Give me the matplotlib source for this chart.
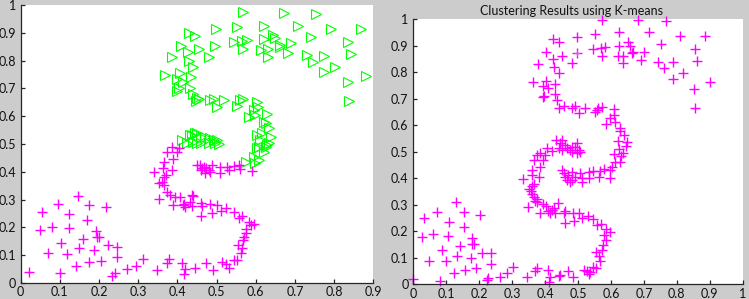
import numpy as np
import matplotlib
matplotlib.use("Agg")
import matplotlib.pyplot as plt
from matplotlib.ticker import FormatStrFormatter

plt.rcParams['font.family'] = ['Lato', 'DejaVu Sans']

# --- left panel: two groups (green triangles, magenta pluses) ---
left_green = [
    (0.568, 0.974), (0.673, 0.970), (0.753, 0.968),
    (0.429, 0.900), (0.446, 0.888), (0.499, 0.913), (0.551, 0.920), (0.620, 0.924),
    (0.707, 0.924), (0.793, 0.913), (0.868, 0.913),
    (0.408, 0.854), (0.454, 0.842), (0.497, 0.853), (0.544, 0.868), (0.565, 0.871),
    (0.578, 0.874), (0.620, 0.877), (0.644, 0.892), (0.650, 0.880), (0.661, 0.856),
    (0.663, 0.850), (0.689, 0.862), (0.740, 0.884), (0.836, 0.868),
    (0.427, 0.830), (0.386, 0.812), (0.480, 0.814), (0.568, 0.842), (0.614, 0.838),
    (0.631, 0.841), (0.632, 0.814), (0.682, 0.826), (0.730, 0.820), (0.747, 0.796),
    (0.774, 0.818), (0.844, 0.824),
    (0.429, 0.799), (0.441, 0.778), (0.774, 0.760), (0.801, 0.776), (0.835, 0.722),
    (0.881, 0.745), (0.838, 0.656),
    (0.369, 0.747), (0.407, 0.754), (0.399, 0.733), (0.414, 0.724), (0.435, 0.740),
    (0.403, 0.700), (0.399, 0.692), (0.431, 0.703), (0.440, 0.679), (0.450, 0.667),
    (0.448, 0.655),
    (0.454, 0.662), (0.484, 0.658), (0.493, 0.661), (0.518, 0.658), (0.501, 0.634),
    (0.552, 0.638), (0.561, 0.658), (0.568, 0.661),
    (0.604, 0.652), (0.595, 0.622), (0.605, 0.632), (0.582, 0.598), (0.599, 0.604),
    (0.629, 0.607), (0.620, 0.580), (0.625, 0.574),
    (0.633, 0.556), (0.616, 0.538), (0.638, 0.526), (0.612, 0.514), (0.633, 0.503),
    (0.608, 0.490), (0.625, 0.490),
    (0.604, 0.532), (0.629, 0.496), (0.604, 0.484), (0.620, 0.472), (0.595, 0.454),
    (0.608, 0.442), (0.574, 0.436), (0.599, 0.431),
    (0.412, 0.514), (0.425, 0.503), (0.437, 0.532), (0.450, 0.538), (0.450, 0.503),
    (0.459, 0.526), (0.471, 0.526), (0.484, 0.520), (0.493, 0.514), (0.501, 0.514),
    (0.441, 0.508), (0.459, 0.505), (0.480, 0.503), (0.497, 0.503), (0.505, 0.500),
    (0.433, 0.532), (0.446, 0.538),
]

left_magenta = [
    # lower-left blob
    (0.022, 0.041), (0.055, 0.257), (0.049, 0.191), (0.079, 0.203), (0.071, 0.107),
    (0.095, 0.284), (0.103, 0.145), (0.101, 0.035), (0.124, 0.247), (0.124, 0.197),
    (0.118, 0.103), (0.147, 0.314), (0.141, 0.061), (0.150, 0.125), (0.159, 0.157),
    (0.170, 0.227), (0.175, 0.281), (0.175, 0.074), (0.188, 0.119), (0.192, 0.186),
    (0.194, 0.164), (0.200, 0.164), (0.205, 0.080), (0.218, 0.272), (0.223, 0.137),
    (0.247, 0.131), (0.247, 0.095), (0.233, 0.025), (0.241, 0.035),
    # bottom arc
    (0.271, 0.049), (0.295, 0.061), (0.312, 0.085), (0.349, 0.047), (0.373, 0.071),
    (0.378, 0.085), (0.412, 0.071), (0.416, 0.032), (0.420, 0.049), (0.444, 0.053),
    (0.473, 0.073), (0.490, 0.047), (0.514, 0.077), (0.525, 0.068), (0.531, 0.053),
    (0.544, 0.083), (0.551, 0.083),
    (0.554, 0.137), (0.565, 0.125), (0.563, 0.107), (0.568, 0.155), (0.571, 0.164),
    (0.574, 0.179), (0.576, 0.193), (0.582, 0.221), (0.588, 0.209), (0.595, 0.212),
    (0.557, 0.233), (0.565, 0.241),
    # middle band
    (0.544, 0.256), (0.525, 0.269), (0.511, 0.259), (0.488, 0.251), (0.482, 0.284),
    (0.501, 0.281), (0.461, 0.241), (0.459, 0.287), (0.463, 0.277), (0.418, 0.284),
    (0.420, 0.274), (0.431, 0.292), (0.436, 0.277), (0.440, 0.313), (0.407, 0.310),
    (0.395, 0.310), (0.414, 0.281), (0.390, 0.281), (0.382, 0.317), (0.373, 0.328),
    (0.352, 0.301), (0.437, 0.317),
    # left column of the S
    (0.386, 0.490), (0.403, 0.484), (0.373, 0.472), (0.398, 0.472), (0.390, 0.447),
    (0.365, 0.434), (0.362, 0.413), (0.386, 0.406), (0.340, 0.401), (0.366, 0.380),
    (0.371, 0.388), (0.354, 0.359), (0.361, 0.363), (0.365, 0.351),
    # inner arm
    (0.457, 0.424), (0.463, 0.412), (0.467, 0.418), (0.474, 0.412), (0.480, 0.406),
    (0.488, 0.424), (0.484, 0.400), (0.459, 0.406), (0.471, 0.394), (0.510, 0.418),
    (0.510, 0.394), (0.527, 0.418), (0.531, 0.406), (0.544, 0.421), (0.557, 0.424),
    (0.561, 0.409), (0.591, 0.403), (0.450, 0.424),
]

# --- right panel: k-means result ---
right_magenta = [
    (0.573, 0.998), (0.682, 0.997), (0.768, 0.994),
    (0.423, 0.925), (0.443, 0.913), (0.497, 0.934), (0.552, 0.943), (0.625, 0.951),
    (0.717, 0.951), (0.809, 0.937), (0.885, 0.937),
    (0.402, 0.875), (0.451, 0.863), (0.423, 0.850), (0.497, 0.872), (0.481, 0.834),
    (0.547, 0.887), (0.570, 0.893), (0.583, 0.897), (0.573, 0.862), (0.623, 0.901),
    (0.621, 0.862), (0.638, 0.862), (0.638, 0.834), (0.653, 0.913), (0.659, 0.901),
    (0.667, 0.878), (0.664, 0.872), (0.699, 0.878), (0.691, 0.846), (0.752, 0.907),
    (0.743, 0.838), (0.760, 0.815), (0.788, 0.838), (0.818, 0.796), (0.788, 0.774),
    (0.856, 0.887), (0.861, 0.844), (0.902, 0.762), (0.853, 0.736), (0.856, 0.664),
    (0.378, 0.831), (0.428, 0.819), (0.441, 0.796), (0.362, 0.765), (0.402, 0.768),
    (0.395, 0.748), (0.410, 0.740), (0.431, 0.755), (0.398, 0.712), (0.395, 0.708),
    (0.429, 0.717), (0.436, 0.695), (0.443, 0.664), (0.456, 0.673),
    (0.481, 0.664), (0.491, 0.673), (0.504, 0.645), (0.522, 0.667), (0.552, 0.650),
    (0.562, 0.664), (0.573, 0.668), (0.557, 0.658),
    (0.610, 0.660), (0.608, 0.639), (0.598, 0.629), (0.613, 0.612), (0.586, 0.604),
    (0.628, 0.589), (0.626, 0.579), (0.641, 0.562), (0.620, 0.541), (0.649, 0.538),
    (0.647, 0.522), (0.624, 0.512), (0.637, 0.497), (0.608, 0.492), (0.630, 0.485),
    (0.613, 0.463), (0.626, 0.463), (0.602, 0.442), (0.598, 0.432), (0.578, 0.434),
    (0.567, 0.429), (0.598, 0.400), (0.564, 0.404),
    # inner upper arm
    (0.434, 0.545), (0.446, 0.532), (0.451, 0.545), (0.461, 0.526), (0.441, 0.513),
    (0.451, 0.507), (0.467, 0.513), (0.477, 0.507), (0.482, 0.519), (0.492, 0.519),
    (0.498, 0.532), (0.502, 0.507), (0.482, 0.500), (0.497, 0.494), (0.507, 0.500),
    (0.405, 0.513), (0.421, 0.504),
    # left column of the S
    (0.385, 0.496), (0.375, 0.487), (0.400, 0.487), (0.365, 0.468), (0.395, 0.468),
    (0.360, 0.431), (0.385, 0.443), (0.333, 0.396), (0.360, 0.413), (0.383, 0.404),
    (0.366, 0.380), (0.360, 0.372), (0.352, 0.360), (0.356, 0.352), (0.360, 0.341),
    (0.365, 0.329), (0.375, 0.322), (0.368, 0.316), (0.375, 0.309), (0.348, 0.292),
    # inner lower arm
    (0.451, 0.431), (0.456, 0.419), (0.461, 0.406), (0.471, 0.413), (0.481, 0.425),
    (0.466, 0.394), (0.481, 0.394), (0.491, 0.406), (0.507, 0.419), (0.512, 0.400),
    (0.532, 0.425), (0.532, 0.400), (0.547, 0.429), (0.512, 0.387), (0.476, 0.387),
    # middle band
    (0.385, 0.270), (0.393, 0.302), (0.403, 0.295), (0.416, 0.270), (0.426, 0.287),
    (0.431, 0.270), (0.438, 0.306), (0.458, 0.268), (0.461, 0.278), (0.461, 0.230),
    (0.484, 0.270), (0.488, 0.239), (0.504, 0.270), (0.512, 0.249), (0.529, 0.258),
    (0.545, 0.245), (0.559, 0.224), (0.570, 0.227), (0.410, 0.278), (0.421, 0.282),
    # lower arc
    (0.586, 0.208), (0.598, 0.199), (0.580, 0.187), (0.586, 0.168), (0.576, 0.149),
    (0.573, 0.130), (0.555, 0.120), (0.565, 0.107), (0.567, 0.089), (0.554, 0.060),
    (0.547, 0.064), (0.535, 0.048), (0.532, 0.039), (0.517, 0.054), (0.527, 0.051),
    (0.486, 0.026), (0.471, 0.051), (0.441, 0.031), (0.410, 0.054), (0.415, 0.029),
    (0.413, 0.010), (0.375, 0.063), (0.370, 0.051), (0.345, 0.026), (0.304, 0.064),
    (0.284, 0.044), (0.264, 0.026), (0.444, 0.035),
    # lower-left blob
    (0.000, 0.019), (0.033, 0.249), (0.027, 0.177), (0.061, 0.190), (0.049, 0.089),
    (0.073, 0.274), (0.086, 0.129), (0.081, 0.014), (0.109, 0.236), (0.106, 0.182),
    (0.099, 0.088), (0.130, 0.309), (0.134, 0.107), (0.124, 0.042), (0.142, 0.145),
    (0.155, 0.272), (0.155, 0.215), (0.157, 0.054), (0.175, 0.098), (0.177, 0.174),
    (0.179, 0.152), (0.185, 0.151), (0.191, 0.060), (0.203, 0.262), (0.208, 0.119),
    (0.236, 0.117), (0.236, 0.075), (0.223, 0.016), (0.228, 0.025),
]
right_green = [(0.497, 0.872)]

left_xticks = [0, 0.1, 0.2, 0.3, 0.4, 0.5, 0.6, 0.7, 0.8, 0.9]
right_xticks = [0, 0.1, 0.2, 0.3, 0.4, 0.5, 0.6, 0.7, 0.8, 0.9, 1]
yticks = [0, 0.1, 0.2, 0.3, 0.4, 0.5, 0.6, 0.7, 0.8, 0.9, 1]

BG = "#cccccc"
fig = plt.figure(figsize=(7.49, 2.99), dpi=100, facecolor=BG)
ax1 = fig.add_axes([0.0276, 0.0535, 0.4708, 0.9298])
ax2 = fig.add_axes([0.5518, 0.0492, 0.4398, 0.8863])


def style(ax, xticks):
    ax.set_facecolor("white")
    ax.set_xlim(xticks[0], xticks[-1])
    ax.set_ylim(0, 1)
    ax.set_xticks(xticks)
    ax.set_yticks(yticks)
    ax.xaxis.set_major_formatter(FormatStrFormatter('%g'))
    ax.yaxis.set_major_formatter(FormatStrFormatter('%g'))
    ax.spines["top"].set_visible(False)
    ax.spines["right"].set_visible(False)
    ax.spines["left"].set_color("#262626")
    ax.spines["bottom"].set_color("#262626")
    ax.spines["left"].set_linewidth(0.9)
    ax.spines["bottom"].set_linewidth(0.9)
    ax.tick_params(direction="in", length=3, width=0.9, colors="#262626",
                   labelsize=9, labelcolor="#111111")
    ax.tick_params(axis="x", pad=2.5)
    ax.tick_params(axis="y", pad=3.5)


gx, gy = np.array(left_green).T
mx, my = np.array(left_magenta).T
ax1.plot(gx, gy, ">", color="#00ff00", mfc="none", markersize=6.5, mew=0.8, clip_on=False)
ax1.plot(mx, my, "+", color="#ff00ff", markersize=7, mew=1.0, clip_on=False)
style(ax1, left_xticks)

rx, ry = np.array(right_magenta).T
ax2.plot(rx, ry, "+", color="#ff00ff", markersize=6.5, mew=1.0, clip_on=False)
gx2, gy2 = np.array(right_green).T
ax2.plot(gx2, gy2, "+", color="#33cc33", markersize=5, mew=0.8)
style(ax2, right_xticks)
ax2.set_title("Clustering Results using K-means", fontsize=9, color="#111111",
              x=0.48, pad=3)

fig.savefig("out.png", dpi=100, facecolor=BG)
